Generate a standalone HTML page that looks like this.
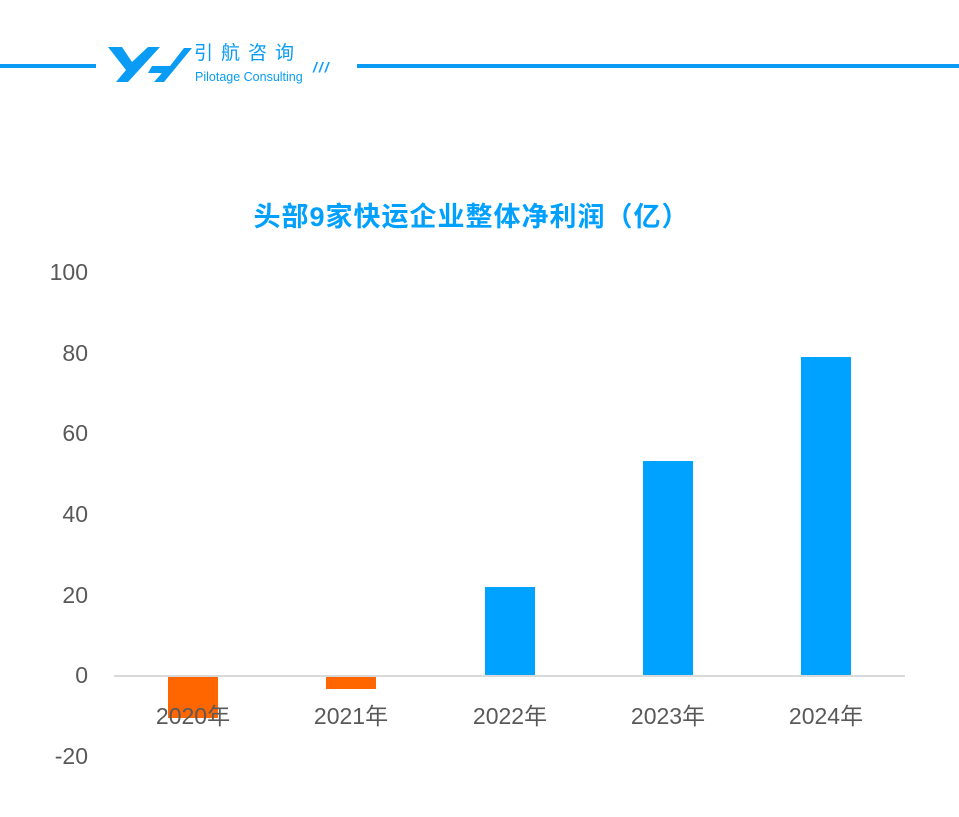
<!DOCTYPE html>
<html><head><meta charset="utf-8"><style>
body{margin:0;width:959px;height:817px;background:#fff;overflow:hidden;position:relative;font-family:"Liberation Sans","Noto Sans CJK SC",sans-serif}
.a{position:absolute}
.yl{position:absolute;right:871px;font-size:23px;color:#595959;line-height:1}
.xl{position:absolute;width:130px;text-align:center;font-size:23px;color:#595959;line-height:1;top:705px}
.b{position:absolute;width:50px}
</style></head><body>
<div class="a" style="left:0;top:64px;width:96px;height:4px;background:#0a9cf5"></div>
<div class="a" style="left:357px;top:64px;width:602px;height:4px;background:#0a9cf5"></div>
<svg class="a" style="left:108px;top:44px" width="84" height="42" viewBox="0 0 84 42">
<polygon points="0,3 14,3 24,18 40,3 52,3 20,38 8,38 18,26" fill="#0a9cf5"/>
<polygon points="44,22 62,22 76,4 84,4 56,38 46,38 54,29 40,29" fill="#0a9cf5"/>
</svg>
<div class="a" style="left:194px;top:44px;font-size:19px;letter-spacing:8px;color:#0a9cf5;line-height:1">引航咨询</div>
<div class="a" style="left:195px;top:71px;font-size:12.5px;color:#0a9cf5;line-height:1">Pilotage Consulting</div>
<div class="a" style="left:313px;top:60px;font-size:14px;font-weight:bold;color:#0a9cf5;font-style:italic;letter-spacing:2px;line-height:1">///</div>
<div class="a" style="left:0;width:959px;top:204px;text-align:center;font-size:27px;letter-spacing:1px;font-weight:bold;color:#00a0ff;line-height:1;padding-right:16px;box-sizing:border-box">头部9家快运企业整体净利润（亿）</div>
<div class="yl" style="top:261px">100</div>
<div class="yl" style="top:342px">80</div>
<div class="yl" style="top:422px">60</div>
<div class="yl" style="top:503px">40</div>
<div class="yl" style="top:584px">20</div>
<div class="yl" style="top:664px">0</div>
<div class="yl" style="top:745px">-20</div>
<div class="a" style="left:114px;top:675px;width:791px;height:2px;background:#d9d9d9"></div>
<div class="b" style="left:168px;top:677px;height:41px;background:#ff6600"></div>
<div class="b" style="left:326px;top:677px;height:12px;background:#ff6600"></div>
<div class="b" style="left:485px;top:587px;height:88px;background:#00a2ff"></div>
<div class="b" style="left:643px;top:461px;height:214px;background:#00a2ff"></div>
<div class="b" style="left:801px;top:357px;height:318px;background:#00a2ff"></div>
<div class="xl" style="left:128px">2020年</div>
<div class="xl" style="left:286px">2021年</div>
<div class="xl" style="left:445px">2022年</div>
<div class="xl" style="left:603px">2023年</div>
<div class="xl" style="left:761px">2024年</div>
</body></html>
